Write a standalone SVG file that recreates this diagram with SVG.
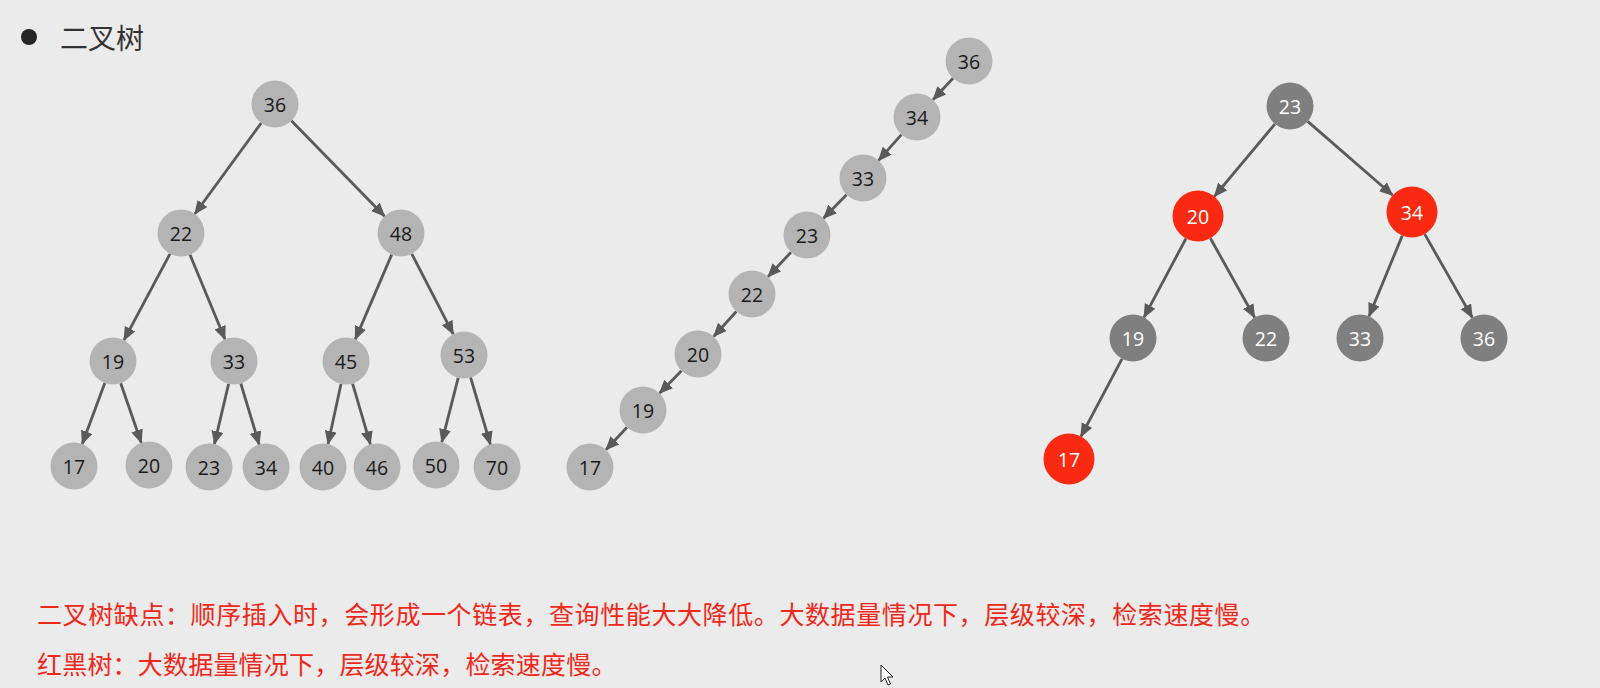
<svg xmlns="http://www.w3.org/2000/svg" width="1600" height="688" viewBox="0 0 1600 688">
<style>
.g circle{fill:#b4b4b4}
.d circle{fill:#7f7f7f}
.r circle{fill:#fa2a12}
text.n{font-family:"Open Sans","Liberation Sans",sans-serif;font-size:19.5px;text-anchor:middle;dominant-baseline:central}
.g text{fill:#1a1a1a}
.d text,.r text{fill:#ffffff}
#edges line{stroke:#5a5a5a;stroke-width:2.8;marker-end:url(#ah)}
.cn{font-family:"Noto Sans CJK SC","Noto Sans",sans-serif}
.note{font-size:25px;fill:#f0281a}
</style>
<defs>
<marker id="ah" markerUnits="userSpaceOnUse" markerWidth="15" markerHeight="13" refX="13" refY="6" orient="auto">
<path d="M0,0 L14,6 L0,12 z" fill="#5a5a5a"/>
</marker>
</defs>
<rect width="1600" height="688" fill="#ebebeb"/>
<g id="title">
<circle cx="29" cy="37" r="8" fill="#262626"/>
<text x="60" y="49" class="cn" font-size="28" fill="#333333">二叉树</text>
</g>
<g id="edges">
<line x1="261.2" y1="123.0" x2="194.8" y2="214.0"/>
<line x1="291.4" y1="120.8" x2="384.6" y2="216.2"/>
<line x1="170.0" y1="253.8" x2="124.0" y2="340.2"/>
<line x1="190.0" y1="254.7" x2="225.0" y2="339.3"/>
<line x1="391.7" y1="254.6" x2="355.3" y2="339.4"/>
<line x1="411.8" y1="253.9" x2="453.2" y2="334.1"/>
<line x1="104.8" y1="383.0" x2="82.2" y2="444.0"/>
<line x1="120.7" y1="383.2" x2="141.3" y2="442.8"/>
<line x1="228.6" y1="383.9" x2="214.4" y2="444.1"/>
<line x1="240.8" y1="383.5" x2="259.2" y2="444.5"/>
<line x1="341.0" y1="384.0" x2="328.0" y2="444.0"/>
<line x1="352.6" y1="383.6" x2="370.4" y2="444.4"/>
<line x1="458.2" y1="377.8" x2="441.8" y2="442.2"/>
<line x1="470.6" y1="377.5" x2="490.4" y2="444.5"/>
<line x1="953.0" y1="78.2" x2="933.0" y2="99.8"/>
<line x1="901.4" y1="134.6" x2="878.6" y2="160.4"/>
<line x1="846.5" y1="194.8" x2="823.5" y2="218.2"/>
<line x1="791.0" y1="252.2" x2="768.0" y2="276.8"/>
<line x1="736.3" y1="311.5" x2="713.7" y2="336.5"/>
<line x1="681.5" y1="370.8" x2="659.5" y2="393.2"/>
<line x1="627.0" y1="427.2" x2="606.0" y2="449.8"/>
<line x1="1274.9" y1="124.0" x2="1214.4" y2="196.4"/>
<line x1="1307.7" y1="121.4" x2="1392.7" y2="195.3"/>
<line x1="1186.0" y1="238.5" x2="1144.0" y2="317.3"/>
<line x1="1210.4" y1="238.3" x2="1254.6" y2="317.5"/>
<line x1="1402.3" y1="235.6" x2="1369.0" y2="316.3"/>
<line x1="1424.7" y1="234.1" x2="1472.3" y2="317.6"/>
<line x1="1122.0" y1="358.8" x2="1080.9" y2="436.5"/>
</g>
<g id="a36" class="g"><circle cx="275" cy="104" r="23.5"/><text class="n" x="275" y="104">36</text></g>
<g id="a22" class="g"><circle cx="181" cy="233" r="23.5"/><text class="n" x="181" y="233">22</text></g>
<g id="a48" class="g"><circle cx="401" cy="233" r="23.5"/><text class="n" x="401" y="233">48</text></g>
<g id="a19" class="g"><circle cx="113" cy="361" r="23.5"/><text class="n" x="113" y="361">19</text></g>
<g id="a33" class="g"><circle cx="234" cy="361" r="23.5"/><text class="n" x="234" y="361">33</text></g>
<g id="a45" class="g"><circle cx="346" cy="361" r="23.5"/><text class="n" x="346" y="361">45</text></g>
<g id="a53" class="g"><circle cx="464" cy="355" r="23.5"/><text class="n" x="464" y="355">53</text></g>
<g id="a17" class="g"><circle cx="74" cy="466" r="23.5"/><text class="n" x="74" y="466">17</text></g>
<g id="a20" class="g"><circle cx="149" cy="465" r="23.5"/><text class="n" x="149" y="465">20</text></g>
<g id="a23" class="g"><circle cx="209" cy="467" r="23.5"/><text class="n" x="209" y="467">23</text></g>
<g id="a34" class="g"><circle cx="266" cy="467" r="23.5"/><text class="n" x="266" y="467">34</text></g>
<g id="a40" class="g"><circle cx="323" cy="467" r="23.5"/><text class="n" x="323" y="467">40</text></g>
<g id="a46" class="g"><circle cx="377" cy="467" r="23.5"/><text class="n" x="377" y="467">46</text></g>
<g id="a50" class="g"><circle cx="436" cy="465" r="23.5"/><text class="n" x="436" y="465">50</text></g>
<g id="a70" class="g"><circle cx="497" cy="467" r="23.5"/><text class="n" x="497" y="467">70</text></g>
<g id="b36" class="g"><circle cx="969" cy="61" r="23.5"/><text class="n" x="969" y="61">36</text></g>
<g id="b34" class="g"><circle cx="917" cy="117" r="23.5"/><text class="n" x="917" y="117">34</text></g>
<g id="b33" class="g"><circle cx="863" cy="178" r="23.5"/><text class="n" x="863" y="178">33</text></g>
<g id="b23" class="g"><circle cx="807" cy="235" r="23.5"/><text class="n" x="807" y="235">23</text></g>
<g id="b22" class="g"><circle cx="752" cy="294" r="23.5"/><text class="n" x="752" y="294">22</text></g>
<g id="b20" class="g"><circle cx="698" cy="354" r="23.5"/><text class="n" x="698" y="354">20</text></g>
<g id="b19" class="g"><circle cx="643" cy="410" r="23.5"/><text class="n" x="643" y="410">19</text></g>
<g id="b17" class="g"><circle cx="590" cy="467" r="23.5"/><text class="n" x="590" y="467">17</text></g>
<g id="c23" class="d"><circle cx="1290" cy="106" r="23.5"/><text class="n" x="1290" y="106">23</text></g>
<g id="c20" class="r"><circle cx="1198" cy="216" r="25.5"/><text class="n" x="1198" y="216">20</text></g>
<g id="c34" class="r"><circle cx="1412" cy="212" r="25.5"/><text class="n" x="1412" y="212">34</text></g>
<g id="c19" class="d"><circle cx="1133" cy="338" r="23.5"/><text class="n" x="1133" y="338">19</text></g>
<g id="c22" class="d"><circle cx="1266" cy="338" r="23.5"/><text class="n" x="1266" y="338">22</text></g>
<g id="c33" class="d"><circle cx="1360" cy="338" r="23.5"/><text class="n" x="1360" y="338">33</text></g>
<g id="c36" class="d"><circle cx="1484" cy="338" r="23.5"/><text class="n" x="1484" y="338">36</text></g>
<g id="c17" class="r"><circle cx="1069" cy="459" r="25.5"/><text class="n" x="1069" y="459">17</text></g>
<g id="notes">
<text x="37" y="624" class="cn note" letter-spacing="0.6">二叉树缺点：顺序插入时，会形成一个链表，查询性能大大降低。大数据量情况下，层级较深，检索速度慢。</text>
<text x="37" y="674" class="cn note" letter-spacing="0.2">红黑树：大数据量情况下，层级较深，检索速度慢。</text>
</g>
<path d="M881,665 L881,682 L885,678 L888,685 L890.5,684 L887.5,677 L893,677 Z" fill="#ffffff" stroke="#222222" stroke-width="1"/>
</svg>
